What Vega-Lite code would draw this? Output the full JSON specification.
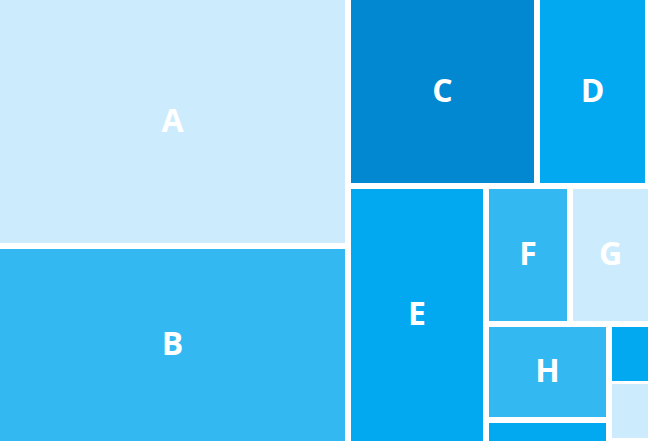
{
  "$schema": "https://vega.github.io/schema/vega-lite/v6.json",
  "width": 648,
  "height": 441,
  "padding": 0,
  "autosize": {"type": "none"},
  "config": {"view": {"stroke": null}},
  "data": {
    "values": [
      {"name": "A", "label": "A", "x0": 0, "x1": 345, "y0": 0, "y1": 243, "shade": "light"},
      {"name": "B", "label": "B", "x0": 0, "x1": 345, "y0": 249, "y1": 441, "shade": "mid"},
      {"name": "C", "label": "C", "x0": 351, "x1": 534, "y0": 0, "y1": 183, "shade": "dark"},
      {"name": "D", "label": "D", "x0": 540, "x1": 645, "y0": 0, "y1": 183, "shade": "main"},
      {"name": "E", "label": "E", "x0": 351, "x1": 483, "y0": 189, "y1": 441, "shade": "main"},
      {"name": "F", "label": "F", "x0": 489, "x1": 567, "y0": 189, "y1": 321, "shade": "mid"},
      {"name": "G", "label": "G", "x0": 573, "x1": 648, "y0": 189, "y1": 321, "shade": "light"},
      {"name": "H", "label": "H", "x0": 489, "x1": 606, "y0": 327, "y1": 417, "shade": "mid"},
      {"name": "I", "label": "", "x0": 612, "x1": 648, "y0": 327, "y1": 381, "shade": "main"},
      {"name": "J", "label": "", "x0": 612, "x1": 648, "y0": 384, "y1": 438, "shade": "light"},
      {"name": "K", "label": "", "x0": 489, "x1": 606, "y0": 423, "y1": 441, "shade": "main"}
    ]
  },
  "encoding": {},
  "layer": [
    {
      "mark": {"type": "rect", "stroke": null},
      "encoding": {
        "x": {"field": "x0", "type": "quantitative", "scale": {"domain": [0, 648], "nice": false, "zero": false}, "axis": null},
        "x2": {"field": "x1"},
        "y": {"field": "y0", "type": "quantitative", "scale": {"domain": [0, 441], "nice": false, "zero": false, "reverse": true}, "axis": null},
        "y2": {"field": "y1"},
        "color": {
          "field": "shade",
          "type": "nominal",
          "scale": {"domain": ["light", "mid", "main", "dark"], "range": ["#ccecfd", "#33b8f1", "#03a9f0", "#0288d0"]},
          "legend": null
        }
      }
    },
    {
      "transform": [
        {"calculate": "(datum.x0 + datum.x1) / 2", "as": "cx"},
        {"calculate": "(datum.y0 + datum.y1) / 2", "as": "cy"}
      ],
      "mark": {"type": "text", "font": "Open Sans", "fontSize": 32, "fontWeight": "bold", "color": "white", "align": "center", "baseline": "middle"},
      "encoding": {
        "x": {"field": "cx", "type": "quantitative"},
        "y": {"field": "cy", "type": "quantitative"},
        "text": {"field": "label"}
      }
    }
  ]
}
